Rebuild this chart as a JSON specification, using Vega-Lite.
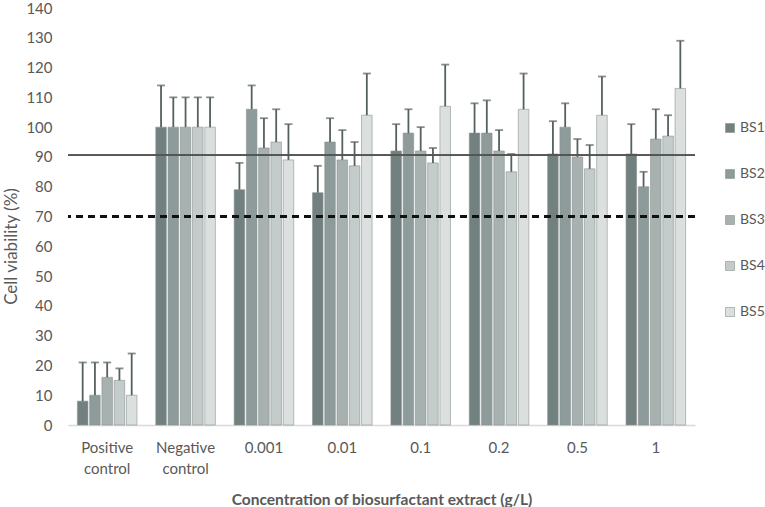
{
  "$schema": "https://vega.github.io/schema/vega-lite/v6.json",
  "autosize": "none",
  "width": 627,
  "height": 417,
  "padding": {"left": 68, "top": 8, "right": 70, "bottom": 82},
  "background": "white",
  "config": {
    "font": "Lato",
    "view": {"stroke": null},
    "axis": {"labelColor": "#595959", "titleColor": "#595959", "labelFont": "Lato", "titleFont": "Lato"}
  },
  "data": {
    "values": [
      {"group": "Positive control", "series": "BS1", "value": 8, "upper": 21},
      {"group": "Positive control", "series": "BS2", "value": 10, "upper": 21},
      {"group": "Positive control", "series": "BS3", "value": 16, "upper": 21},
      {"group": "Positive control", "series": "BS4", "value": 15, "upper": 19},
      {"group": "Positive control", "series": "BS5", "value": 10, "upper": 24},
      {"group": "Negative control", "series": "BS1", "value": 100, "upper": 114},
      {"group": "Negative control", "series": "BS2", "value": 100, "upper": 110},
      {"group": "Negative control", "series": "BS3", "value": 100, "upper": 110},
      {"group": "Negative control", "series": "BS4", "value": 100, "upper": 110},
      {"group": "Negative control", "series": "BS5", "value": 100, "upper": 110},
      {"group": "0.001", "series": "BS1", "value": 79, "upper": 88},
      {"group": "0.001", "series": "BS2", "value": 106, "upper": 114},
      {"group": "0.001", "series": "BS3", "value": 93, "upper": 103},
      {"group": "0.001", "series": "BS4", "value": 95, "upper": 106},
      {"group": "0.001", "series": "BS5", "value": 89, "upper": 101},
      {"group": "0.01", "series": "BS1", "value": 78, "upper": 87},
      {"group": "0.01", "series": "BS2", "value": 95, "upper": 103},
      {"group": "0.01", "series": "BS3", "value": 89, "upper": 99},
      {"group": "0.01", "series": "BS4", "value": 87, "upper": 95},
      {"group": "0.01", "series": "BS5", "value": 104, "upper": 118},
      {"group": "0.1", "series": "BS1", "value": 92, "upper": 101},
      {"group": "0.1", "series": "BS2", "value": 98, "upper": 106},
      {"group": "0.1", "series": "BS3", "value": 92, "upper": 100},
      {"group": "0.1", "series": "BS4", "value": 88, "upper": 93},
      {"group": "0.1", "series": "BS5", "value": 107, "upper": 121},
      {"group": "0.2", "series": "BS1", "value": 98, "upper": 108},
      {"group": "0.2", "series": "BS2", "value": 98, "upper": 109},
      {"group": "0.2", "series": "BS3", "value": 92, "upper": 99},
      {"group": "0.2", "series": "BS4", "value": 85, "upper": 91},
      {"group": "0.2", "series": "BS5", "value": 106, "upper": 118},
      {"group": "0.5", "series": "BS1", "value": 91, "upper": 102},
      {"group": "0.5", "series": "BS2", "value": 100, "upper": 108},
      {"group": "0.5", "series": "BS3", "value": 90, "upper": 96},
      {"group": "0.5", "series": "BS4", "value": 86, "upper": 94},
      {"group": "0.5", "series": "BS5", "value": 104, "upper": 117},
      {"group": "1", "series": "BS1", "value": 91, "upper": 101},
      {"group": "1", "series": "BS2", "value": 80, "upper": 85},
      {"group": "1", "series": "BS3", "value": 96, "upper": 106},
      {"group": "1", "series": "BS4", "value": 97, "upper": 104},
      {"group": "1", "series": "BS5", "value": 113, "upper": 129}
    ]
  },
  "encoding": {
    "x": {
      "field": "group",
      "type": "nominal",
      "sort": null,
      "scale": {"paddingInner": 0.24, "paddingOuter": 0.12},
      "axis": {
        "title": "Concentration of biosurfactant extract (g/L)",
        "titleFontSize": 15.5,
        "titleFontWeight": "bold",
        "titlePadding": 16,
        "labelAngle": 0,
        "labelFontSize": 15,
        "labelPadding": 15,
        "labelLineHeight": 21,
        "labelExpr": "split(datum.label, ' ')",
        "labelOverlap": false,
        "ticks": false,
        "domainColor": "#d9d9d9",
        "domainWidth": 1.5
      }
    },
    "xOffset": {"field": "series", "type": "nominal", "scale": {"paddingInner": 0.14}},
    "y": {
      "type": "quantitative",
      "scale": {"domain": [0, 140]},
      "axis": {
        "title": "Cell viability (%)",
        "titleFontSize": 17,
        "titleFontWeight": "normal",
        "titleX": -48,
        "titleY": 238,
        "titleAngle": 270,
        "titleBaseline": "bottom",
        "titleAlign": "center",
        "labelFontSize": 15,
        "labelPadding": 16,
        "labelOverlap": false,
        "values": [0,10,20,30,40,50,60,70,80,90,100,110,120,130,140],
        "ticks": false,
        "domain": false,
        "grid": false
      }
    }
  },
  "layer": [
    {
      "mark": {"type": "bar", "stroke": "#8a9291", "strokeWidth": 0.6},
      "encoding": {
        "y": {"field": "value", "type": "quantitative"},
        "color": {
          "field": "series",
          "type": "nominal",
          "scale": {"domain": ["BS1","BS2","BS3","BS4","BS5"], "range": ["#72807f","#8d9b9a","#a7b1b0","#c4cccb","#dbe0df"]},
          "legend": {
            "title": null,
            "orient": "none",
            "legendX": 655,
            "legendY": 113,
            "symbolType": "square",
            "symbolSize": 81,
            "symbolStrokeColor": "#8a9291",
            "symbolStrokeWidth": 0.6,
            "rowPadding": 32,
            "labelFontSize": 14,
            "labelColor": "#595959",
            "labelFont": "Lato",
            "labelOffset": 3
          }
        }
      }
    },
    {
      "mark": {"type": "rule", "color": "#56605f", "strokeWidth": 1.8},
      "encoding": {
        "y": {"field": "value", "type": "quantitative"},
        "y2": {"field": "upper"}
      }
    },
    {
      "mark": {"type": "tick", "color": "#56605f", "thickness": 1.8, "size": 8},
      "encoding": {
        "y": {"field": "upper", "type": "quantitative"}
      }
    },
    {
      "mark": {"type": "rule", "color": "#555555", "strokeWidth": 1},
      "encoding": {"y": {"datum": 90.5, "type": "quantitative"}, "x": null, "xOffset": null}
    },
    {
      "mark": {"type": "rule", "color": "#111111", "strokeWidth": 2, "strokeDash": [7, 5]},
      "encoding": {"y": {"datum": 70, "type": "quantitative"}, "x": null, "xOffset": null}
    }
  ]
}
